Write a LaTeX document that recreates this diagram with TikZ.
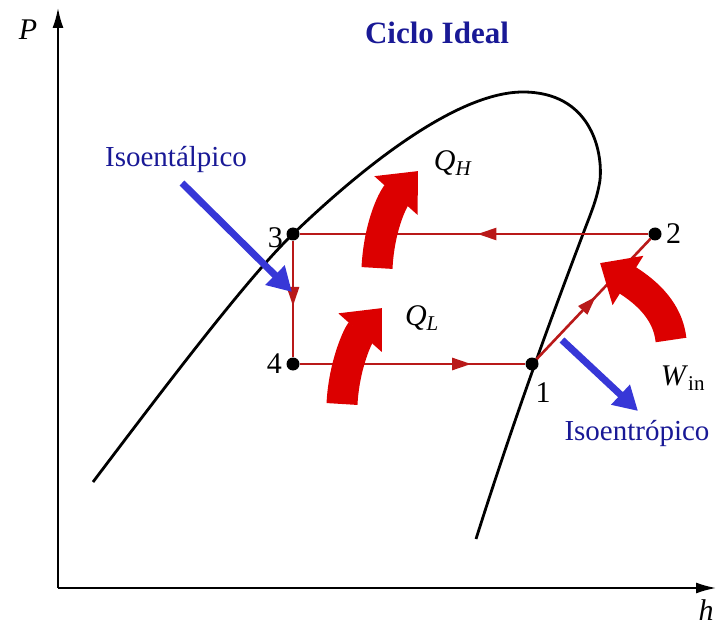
\documentclass[tikz,border=0pt]{standalone}
\usepackage{fontspec}
\setmainfont{Liberation Serif}
\usetikzlibrary{arrows.meta,positioning,decorations.markings}
\definecolor{cyclered}{RGB}{185,25,25}
\definecolor{heatred}{RGB}{220,0,0}
\definecolor{pointerblue}{RGB}{55,55,215}
\definecolor{textblue}{RGB}{25,25,150}
\newcommand{\sublbl}[2]{\textit{#1}\textsubscript{#2}}

\begin{document}
\begin{tikzpicture}[
  x=1pt,y=-1pt,
  every node/.style={font=\fontsize{30}{32}\selectfont},
  dot/.style={circle,fill=black,inner sep=0pt,minimum size=13pt},
  dome/.style={line width=2.8pt},
  cyc/.style={cyclered,line width=2.6pt},
  midarr/.style={postaction={decorate},decoration={markings,
      mark=at position #1 with {\arrow{Triangle[length=19pt,width=12pt]}}}},
  heat/.style={heatred,line width=31pt,-{Triangle[length=33pt,width=56pt]}},
  pointer/.style={pointerblue,line width=7pt,-{Triangle[length=24pt,width=26pt]}},
  axis/.style={line width=1.8pt,-{Latex[length=20pt,width=11pt]}},
  note/.style={textblue,font=\fontsize{29}{31}\selectfont}
]
\useasboundingbox (0,0) rectangle (720,628);

% axes
\coordinate (O) at (58,588);
\coordinate (ptop) at (58,8);
\coordinate (hend) at (716,588);
\draw[axis] (O) -- (ptop);
\draw[axis] (O) -- (hend);
\node (plbl) at (28,30) {\textit{P}};
\node (hlbl) at (706,610) {\textit{h}};
\node[font=\bfseries\fontsize{31}{34}\selectfont,textblue] (title) at (437,33) {Ciclo Ideal};

% saturation dome
\draw[dome] (93,482) .. controls (170,380) and (250,275) .. (293,234)
  .. controls (370,160) and (460,92) .. (523,92)
  .. controls (590,92) and (603,150) .. (600,180)
  .. controls (597,200) and (590,215) .. (583,234)
  .. controls (560,295) and (520,400) .. (476,539);

% cycle states
\node[dot] (p1) at (532,364) {};
\node[dot] (p2) at (655,234) {};
\node[dot] (p3) at (293,234) {};
\node[dot] (p4) at (293,364) {};
\node[below=8pt of p1,xshift=11pt] (l1) {1};
\node[right=1pt of p2] (l2) {2};
\node[left=0pt of p3,yshift=-4pt] (l3) {3};
\node[left=1pt of p4] (l4) {4};

\draw[cyc,midarr=0.49] (p2) -- (p3);
\draw[cyc,midarr=0.56] (p3) -- (p4);
\draw[cyc,midarr=0.76] (p4) -- (p1);
\draw[cyc,midarr=0.52] (p1) -- (p2);

% heat and work
\coordinate (qh0) at (377,268);
\coordinate (qh1) at (418,171);
\coordinate (ql0) at (342,404);
\coordinate (ql1) at (382,308);
\coordinate (w0) at (671,340);
\coordinate (w1) at (600,263);
\draw[heat] (qh0) .. controls (379,228) and (392,200) .. (qh1);
\draw[heat] (ql0) .. controls (344,365) and (358,335) .. (ql1);
\draw[heat] (w0) .. controls (668,312) and (648,293) .. (w1);
\node (qhlbl) at (453,163) {\sublbl{Q}{\textit{H}}};
\node (qllbl) at (422,318) {\sublbl{Q}{\textit{L}}};
\node (wlbl) at (683,378) {\sublbl{W}{in}};

% process notes
\node[note] (isoh) at (176,160) {Isoentálpico};
\node[note] (isos) at (637,434) {Isoentrópico};
\coordinate (ah0) at (182,183);
\coordinate (ah1) at (292,292);
\coordinate (as0) at (562,340);
\coordinate (as1) at (638,411);
\draw[pointer] (ah0) -- (ah1);
\draw[pointer] (as0) -- (as1);
\end{tikzpicture}
\end{document}
